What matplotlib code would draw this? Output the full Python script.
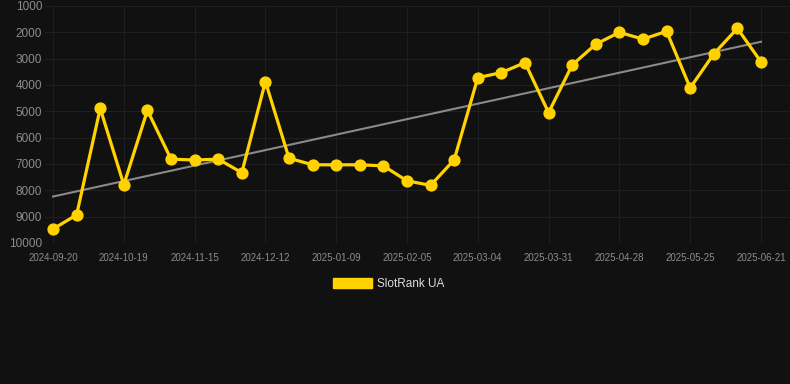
import numpy as np
import matplotlib
matplotlib.use("Agg")
import matplotlib.pyplot as plt

plt.rcParams['font.family'] = ['Liberation Sans', 'DejaVu Sans']

tick_labels = ["2024-09-20", "2024-10-19", "2024-11-15", "2024-12-12", "2025-01-09",
               "2025-02-05", "2025-03-04", "2025-03-31", "2025-04-28", "2025-05-25",
               "2025-06-21"]
ranks = [9470, 8930, 4890, 7790, 4960, 6815, 6850, 6815, 7330, 3870,
         6780, 7030, 7030, 7030, 7070, 7640, 7810, 6840, 3720, 3530,
         3150, 5050, 3240, 2450, 2000, 2260, 1960, 4110, 2820, 1850, 3120]
series_name = "SlotRank UA"

bg = "#111111"
gold = "#FFD200"

x = np.arange(len(ranks))
fig = plt.figure(figsize=(7.9, 3.84), dpi=100, facecolor=bg)
ax = fig.add_axes([45/790, 1-243/384, 745/790, 237/384], facecolor=bg)

# trend line (least squares)
coef = np.polyfit(x, ranks, 1)
ax.plot([x[0], x[-1]], np.polyval(coef, [x[0], x[-1]]), color="#8a8a8a", lw=1.5, zorder=2)

ax.plot(x, ranks, color=gold, lw=2.3, marker='o', ms=7.8, zorder=3, clip_on=False,
        label=series_name)

ax.set_ylim(10000, 1000)
ax.set_yticks(np.arange(1000, 10001, 1000))
ax.set_xlim(-0.34, 31.23)
ax.set_xticks(x[::3])
ax.set_xticklabels(tick_labels)

ax.grid(True, color="#1f1f1f", lw=0.8)
ax.set_axisbelow(True)
for s in ax.spines.values():
    s.set_visible(False)
ax.tick_params(axis='both', length=0, colors="#8c8c8c")
ax.tick_params(axis='x', labelsize=7, pad=7)
ax.tick_params(axis='y', labelsize=8.5, pad=2)

from matplotlib.patches import Patch
leg = fig.legend(handles=[Patch(facecolor=gold, edgecolor=gold)], labels=[series_name],
                 loc='center', bbox_to_anchor=(389/790, 1-284/384), frameon=False,
                 fontsize=8.5, handlelength=3.3, handleheight=0.9, labelcolor="#dddddd",
                 handletextpad=0.45)

fig.savefig("out.png", dpi=100, facecolor=bg)
